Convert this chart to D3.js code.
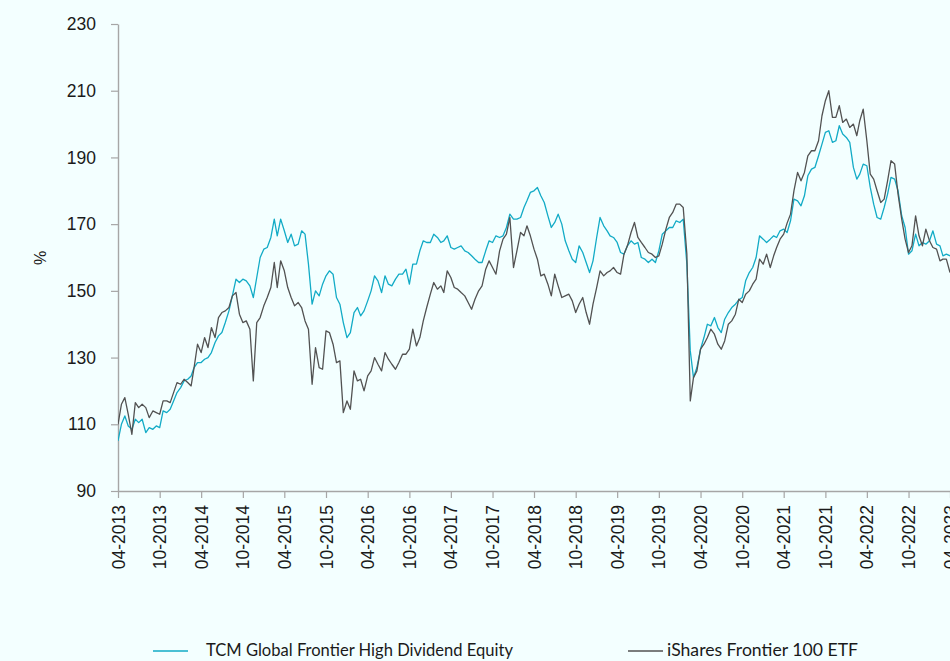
<!DOCTYPE html>
<html>
<head>
<meta charset="utf-8">
<script src="https://cdn.jsdelivr.net/npm/d3@7"></script>
<style>
  html, body { margin: 0; padding: 0; background: #f3ffff; }
  svg { display: block; }
</style>
</head>
<body>
<svg id="chart" width="950" height="661"></svg>
<script>
// ---- DATA (semi-monthly readings, %) ----
const dates = [
"2013-04-01","2013-04-16","2013-05-01","2013-05-16","2013-06-01","2013-06-16","2013-07-01","2013-07-16","2013-08-01","2013-08-16","2013-09-01","2013-09-16","2013-10-01","2013-10-16","2013-11-01","2013-11-16","2013-12-01","2013-12-16",
"2014-01-01","2014-01-16","2014-02-01","2014-02-16","2014-03-01","2014-03-16","2014-04-01","2014-04-16","2014-05-01","2014-05-16","2014-06-01","2014-06-16","2014-07-01","2014-07-16","2014-08-01","2014-08-16","2014-09-01","2014-09-16","2014-10-01","2014-10-16","2014-11-01","2014-11-16","2014-12-01","2014-12-16",
"2015-01-01","2015-01-16","2015-02-01","2015-02-16","2015-03-01","2015-03-16","2015-04-01","2015-04-16","2015-05-01","2015-05-16","2015-06-01","2015-06-16","2015-07-01","2015-07-16","2015-08-01","2015-08-16","2015-09-01","2015-09-16","2015-10-01","2015-10-16","2015-11-01","2015-11-16","2015-12-01","2015-12-16",
"2016-01-01","2016-01-16","2016-02-01","2016-02-16","2016-03-01","2016-03-16","2016-04-01","2016-04-16","2016-05-01","2016-05-16","2016-06-01","2016-06-16","2016-07-01","2016-07-16","2016-08-01","2016-08-16","2016-09-01","2016-09-16","2016-10-01","2016-10-16","2016-11-01","2016-11-16","2016-12-01","2016-12-16",
"2017-01-01","2017-01-16","2017-02-01","2017-02-16","2017-03-01","2017-03-16","2017-04-01","2017-04-16","2017-05-01","2017-05-16","2017-06-01","2017-06-16","2017-07-01","2017-07-16","2017-08-01","2017-08-16","2017-09-01","2017-09-16","2017-10-01","2017-10-16","2017-11-01","2017-11-16","2017-12-01","2017-12-16",
"2018-01-01","2018-01-16","2018-02-01","2018-02-16","2018-03-01","2018-03-16","2018-04-01","2018-04-16","2018-05-01","2018-05-16","2018-06-01","2018-06-16","2018-07-01","2018-07-16","2018-08-01","2018-08-16","2018-09-01","2018-09-16","2018-10-01","2018-10-16","2018-11-01","2018-11-16","2018-12-01","2018-12-16",
"2019-01-01","2019-01-16","2019-02-01","2019-02-16","2019-03-01","2019-03-16","2019-04-01","2019-04-16","2019-05-01","2019-05-16","2019-06-01","2019-06-16","2019-07-01","2019-07-16","2019-08-01","2019-08-16","2019-09-01","2019-09-16","2019-10-01","2019-10-16","2019-11-01","2019-11-16","2019-12-01","2019-12-16",
"2020-01-01","2020-01-16","2020-02-01","2020-02-16","2020-03-01","2020-03-16","2020-04-01","2020-04-16","2020-05-01","2020-05-16","2020-06-01","2020-06-16","2020-07-01","2020-07-16","2020-08-01","2020-08-16","2020-09-01","2020-09-16","2020-10-01","2020-10-16","2020-11-01","2020-11-16","2020-12-01","2020-12-16",
"2021-01-01","2021-01-16","2021-02-01","2021-02-16","2021-03-01","2021-03-16","2021-04-01","2021-04-16","2021-05-01","2021-05-16","2021-06-01","2021-06-16","2021-07-01","2021-07-16","2021-08-01","2021-08-16","2021-09-01","2021-09-16","2021-10-01","2021-10-16","2021-11-01","2021-11-16","2021-12-01","2021-12-16",
"2022-01-01","2022-01-16","2022-02-01","2022-02-16","2022-03-01","2022-03-16","2022-04-01","2022-04-16","2022-05-01","2022-05-16","2022-06-01","2022-06-16","2022-07-01","2022-07-16","2022-08-01","2022-08-16","2022-09-01","2022-09-16","2022-10-01","2022-10-16","2022-11-01","2022-11-16","2022-12-01","2022-12-16",
"2023-01-01","2023-01-16","2023-02-01","2023-02-16","2023-03-01","2023-03-16","2023-04-01"
];

const tcmValues = [
105,110,112.5,109.5,108.5,111.5,110.5,111.5,107.5,109,108.5,109.5,109,114,113.5,114.5,117,119.5,
121,123,123.5,124.5,127,128.5,128.5,129.5,130,131.5,134.5,136.5,137.5,140.5,144,148.5,153.5,152.5,153.5,153,151.5,148,154,160,
162.5,163,166,171.5,166.5,171.5,168,164.5,167,163.5,164,168,167,158,146,150,148.5,152,154.5,156,155,148,146,140.5,
136,137.5,143.5,145,142.5,144,147,150,154.5,153,149.5,154.5,152,151.5,153.5,155,155,156.5,152,158,158,162,165,164.5,
164.5,167,166,164.5,165,166.5,163,162.5,163,163.5,162,161.5,160.5,159.5,158.5,158.5,162,165,164.5,166.5,166,166.5,169,173,
171.5,171.5,172,175,177,179.5,180,181,178.5,176.5,172.5,169,170.5,173,170,165,162,159.5,158.5,163.5,161.5,158.5,155.5,159,
166,172,169.5,168,166.5,166,164.5,161.5,161,163.5,165,164,164.5,160,159.5,158.5,159.5,158.5,162,167,168,169,169,171,
170.5,171.5,158,132,124,127,132.5,136,140,139.5,142,139,137.5,141.5,143.5,145,146,147.3,148,153,155.5,157,160,166.5,
165.5,164.5,165.5,166.5,166,168,168.5,167.5,171,177.5,177,175.5,178.5,184.5,186.5,187,190.5,194,197.5,198,194.5,195,199.5,197,
196,194.5,187,183.5,185,188,187.5,181,176,172,171.5,175,179,184,183.5,180,172.5,169,161,162,167,163.5,164.5,164,
165,168,164,163.5,160.5,161,160.5
];

const ishValues = [
110,116,118,113,107,116.5,115,116,115,112,114,113.5,113,117,117,116.5,119.5,122.5,
122,123.5,122.5,121.5,127,134,131.5,136,133,139,136,142,143.5,144,145,148.5,149.5,143,140.5,141,138.5,123,140.5,142,
145.5,148,151,158.5,151,159,156,151,148,145.5,146.5,145,141,138.5,122,133,127,126.5,138,137.5,134,128.5,129,113.5,
117,114.5,126,123,123.5,120,124.5,126,130,128,126,131.5,129.5,128,126.5,128.5,131,131,132.5,138.5,133.5,136,141,145,
149,152.5,150.5,151.5,149.5,156,154,151,150.5,149.5,148.5,146.5,144.5,147.5,150,151.5,156.5,159,157,155,162,165.5,167,172,
157,162,167.5,166.5,169.5,166.5,162.5,159.5,154.5,155,152,148.5,155,151.5,148,148.5,149,147,143.5,146,148,143.5,140,146,
151,156,154.5,155.5,156,157,155.5,155,161,163.5,167.5,170.5,166,164.5,163,161.5,161,160,160.5,164,168.5,172,173.5,176,
176,175,161,117,124,126,132.5,134,136,138.5,137,134,132.5,135,140,141,143,147.5,146.5,149,150,152,153.5,159.5,
158,161,157,160.5,163,165.5,167,170.3,173,180,185.5,183,185.5,190.5,192,192,195,202.5,207,210,202,202,205.5,200.5,
201.5,199,200,196.5,201,204.5,195,185,183.5,180,176.5,177.5,183,189,188,179,171.5,165.5,161.5,163.5,172.5,166.5,163.5,168.5,
165,163,162.5,159,159.5,159.5,155.5
];

const yTicks = [90, 110, 130, 150, 170, 190, 210, 230];
const xTickLabels = ["04-2013","10-2013","04-2014","10-2014","04-2015","10-2015","04-2016","10-2016","04-2017","10-2017","04-2018","10-2018","04-2019","10-2019","04-2020","10-2020","04-2021","10-2021","04-2022","10-2022","04-2023"];
const seriesNames = ["TCM Global Frontier High Dividend Equity", "iShares Frontier 100 ETF"];
const seriesColors = ["#12abc6", "#525252"];

// ---- CHART ----
(function () {
const svg = d3.select("#chart");
const W = 950, H = 661;
const mLeft = 118, mTop = 24, mBottom = 491, mRight = 950;
const parse = d3.timeParse("%Y-%m-%d");
const dts = dates.map(parse);
const tickDates = xTickLabels.map(s => { const [m, yy] = s.split("-"); return new Date(+yy, +m - 1, 1); });

svg.append("rect").attr("width", W).attr("height", H).attr("fill", "#f3ffff");

const x = d3.scaleTime().domain([new Date(2013, 3, 1), new Date(2023, 3, 1)]).range([mLeft, mRight]);
const y = d3.scaleLinear().domain([90, 230]).range([mBottom, mTop]);

const axisColor = "#a6a6a6";
const fontFam = "'Liberation Sans', Arial, sans-serif";

// Y axis
const yAxis = svg.append("g").attr("transform", `translate(${mLeft},0)`)
  .call(d3.axisLeft(y).tickValues(yTicks).tickSize(7).tickSizeOuter(0).tickPadding(15).tickFormat(d3.format("d")));
yAxis.select(".domain").attr("stroke", axisColor).attr("stroke-width", 1.4);
yAxis.selectAll(".tick line").attr("stroke", axisColor).attr("stroke-width", 1.2);
yAxis.selectAll(".tick text").attr("fill", "#1a1a1a").style("font-family", fontFam).style("font-size", "17.5px");

// X axis
const xAxis = svg.append("g").attr("transform", `translate(0,${mBottom})`)
  .call(d3.axisBottom(x).tickValues(tickDates).tickSize(7).tickSizeOuter(0).tickFormat((d, i) => xTickLabels[i]));
xAxis.select(".domain").attr("stroke", axisColor).attr("stroke-width", 1.4);
xAxis.selectAll(".tick line").attr("stroke", axisColor).attr("stroke-width", 1.2);
xAxis.selectAll(".tick text")
  .attr("fill", "#1a1a1a")
  .style("font-family", fontFam).style("font-size", "17.5px")
  .attr("text-anchor", "end")
  .attr("transform", "rotate(-90)")
  .attr("x", -14).attr("y", 0).attr("dy", "0.35em");

// Y label
svg.append("text").attr("transform", "translate(46,258) rotate(-90)")
  .attr("text-anchor", "middle").attr("fill", "#1a1a1a")
  .style("font-family", fontFam).style("font-size", "16px").text("%");

// Lines
svg.append("clipPath").attr("id", "plotclip").append("rect")
  .attr("x", mLeft).attr("y", 0).attr("width", mRight - mLeft).attr("height", mBottom);
const line = d3.line().x((d, i) => x(dts[i])).y(d => y(d));
const seriesData = [tcmValues, ishValues];
seriesData.forEach((vals, si) => {
  svg.append("path").datum(vals).attr("d", line)
    .attr("fill", "none").attr("stroke", seriesColors[si]).attr("stroke-width", 1.3)
    .attr("stroke-linejoin", "round").attr("clip-path", "url(#plotclip)");
});

// Legend
const legendFont = "Lato, 'Noto Sans', sans-serif";
const legendItems = [{lx: 153, tx: 206, w: 307}, {lx: 628, tx: 667, w: 191}];
legendItems.forEach((it, i) => {
  svg.append("line").attr("x1", it.lx).attr("x2", it.lx + 35).attr("y1", 651).attr("y2", 651)
    .attr("stroke", seriesColors[i]).attr("stroke-width", 1.3);
  svg.append("text").attr("x", it.tx).attr("y", 656).attr("fill", "#1a1a1a")
    .attr("textLength", it.w).attr("lengthAdjust", "spacingAndGlyphs")
    .style("font-family", legendFont).style("font-size", "17px").text(seriesNames[i]);
});
})();
</script>
</body>
</html>
